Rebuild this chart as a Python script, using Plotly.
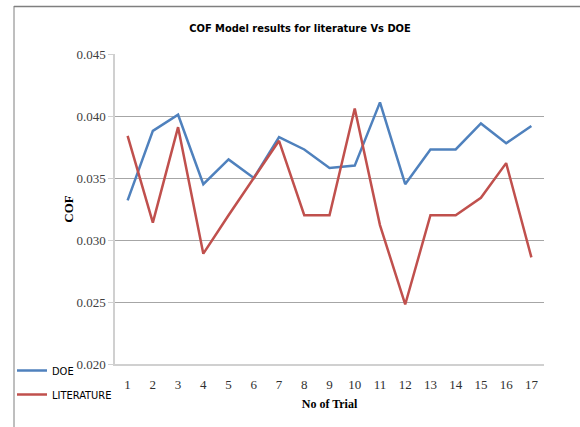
import plotly.graph_objects as go

trials = [str(i) for i in range(1, 18)]
doe = [0.0332, 0.0388, 0.0401, 0.0345, 0.0365, 0.0350, 0.0383, 0.0373, 0.0358,
       0.0360, 0.0411, 0.0345, 0.0373, 0.0373, 0.0394, 0.0378, 0.0392]
literature = [0.0384, 0.0314, 0.0391, 0.0289, 0.0320, 0.0350, 0.0380, 0.0320, 0.0320,
              0.0406, 0.0312, 0.0248, 0.0320, 0.0320, 0.0334, 0.0362, 0.0286]
y_ticks = [0.020, 0.025, 0.030, 0.035, 0.040, 0.045]

W, H = 580, 427
L, R, T, B = 115, 36, 54, 63
pw = W - L - R
ph = H - T - B

NARROW = "DejaVu Sans Condensed, Liberation Sans Narrow, Liberation Sans"

fig = go.Figure()
fig.add_trace(go.Scatter(x=trials, y=doe, mode="lines", name="DOE", legendgroup="a",
                         line=dict(color="#4F81BD", width=2.5)))
fig.add_trace(go.Scatter(x=trials, y=literature, mode="lines", name="LITERATURE", legendgroup="b",
                         line=dict(color="#C0504D", width=2.5)))

def px_x(p):
    return (p - L) / pw

def px_y(p):
    return (H - B - p) / ph

shapes = [
    dict(type="line", xref="paper", yref="paper", x0=px_x(14), x1=px_x(14),
         y0=px_y(6), y1=px_y(H + 5), line=dict(color="#7F7F7F", width=1)),
    dict(type="line", xref="paper", yref="paper", x0=px_x(14), x1=px_x(W + 5),
         y0=px_y(6.5), y1=px_y(6.5), line=dict(color="#7F7F7F", width=1.5)),
]

fig.update_layout(
    width=W, height=H,
    margin=dict(l=L, r=R, t=T, b=B),
    paper_bgcolor="white", plot_bgcolor="white",
    title=dict(text="<b>COF Model results for literature Vs DOE</b>",
               x=300 / W, xanchor="center", y=1 - 28 / H, yanchor="middle",
               font=dict(family=NARROW, size=11, color="#000000")),
    xaxis=dict(type="category", range=[-0.5, 16.5], showgrid=False,
               showline=True, linecolor="#D0D0D0", linewidth=1.5,
               ticks="", ticklabelstandoff=8,
               tickfont=dict(family="Liberation Serif", size=13, color="#303030"),
               title=dict(text="<b>No of Trial</b>", standoff=8,
                          font=dict(family="Liberation Serif", size=12, color="#000000"))),
    yaxis=dict(range=[0.020, 0.045], tickvals=y_ticks, tickformat=".3f",
               showgrid=True, gridcolor="#A6A6A6", gridwidth=1,
               showline=True, linecolor="#D0D0D0", linewidth=1.5,
               ticks="outside", ticklen=5, tickcolor="#D0D0D0",
               zeroline=False,
               tickfont=dict(family="Liberation Serif", size=13, color="#404040"),
               title=dict(text="<b>COF</b>", standoff=0,
                          font=dict(family="Liberation Serif", size=13, color="#000000"))),
    legend=dict(x=px_x(12), y=px_y(356), xanchor="left", yanchor="top",
                bgcolor="rgba(0,0,0,0)", itemwidth=30, tracegroupgap=5,
                traceorder="grouped",
                font=dict(family=NARROW, size=11, color="#000000")),
    shapes=shapes,
)

fig.write_html("out.html", config={"displayModeBar": False},
               post_script="document.body.style.margin='0';document.body.style.padding='0';")
